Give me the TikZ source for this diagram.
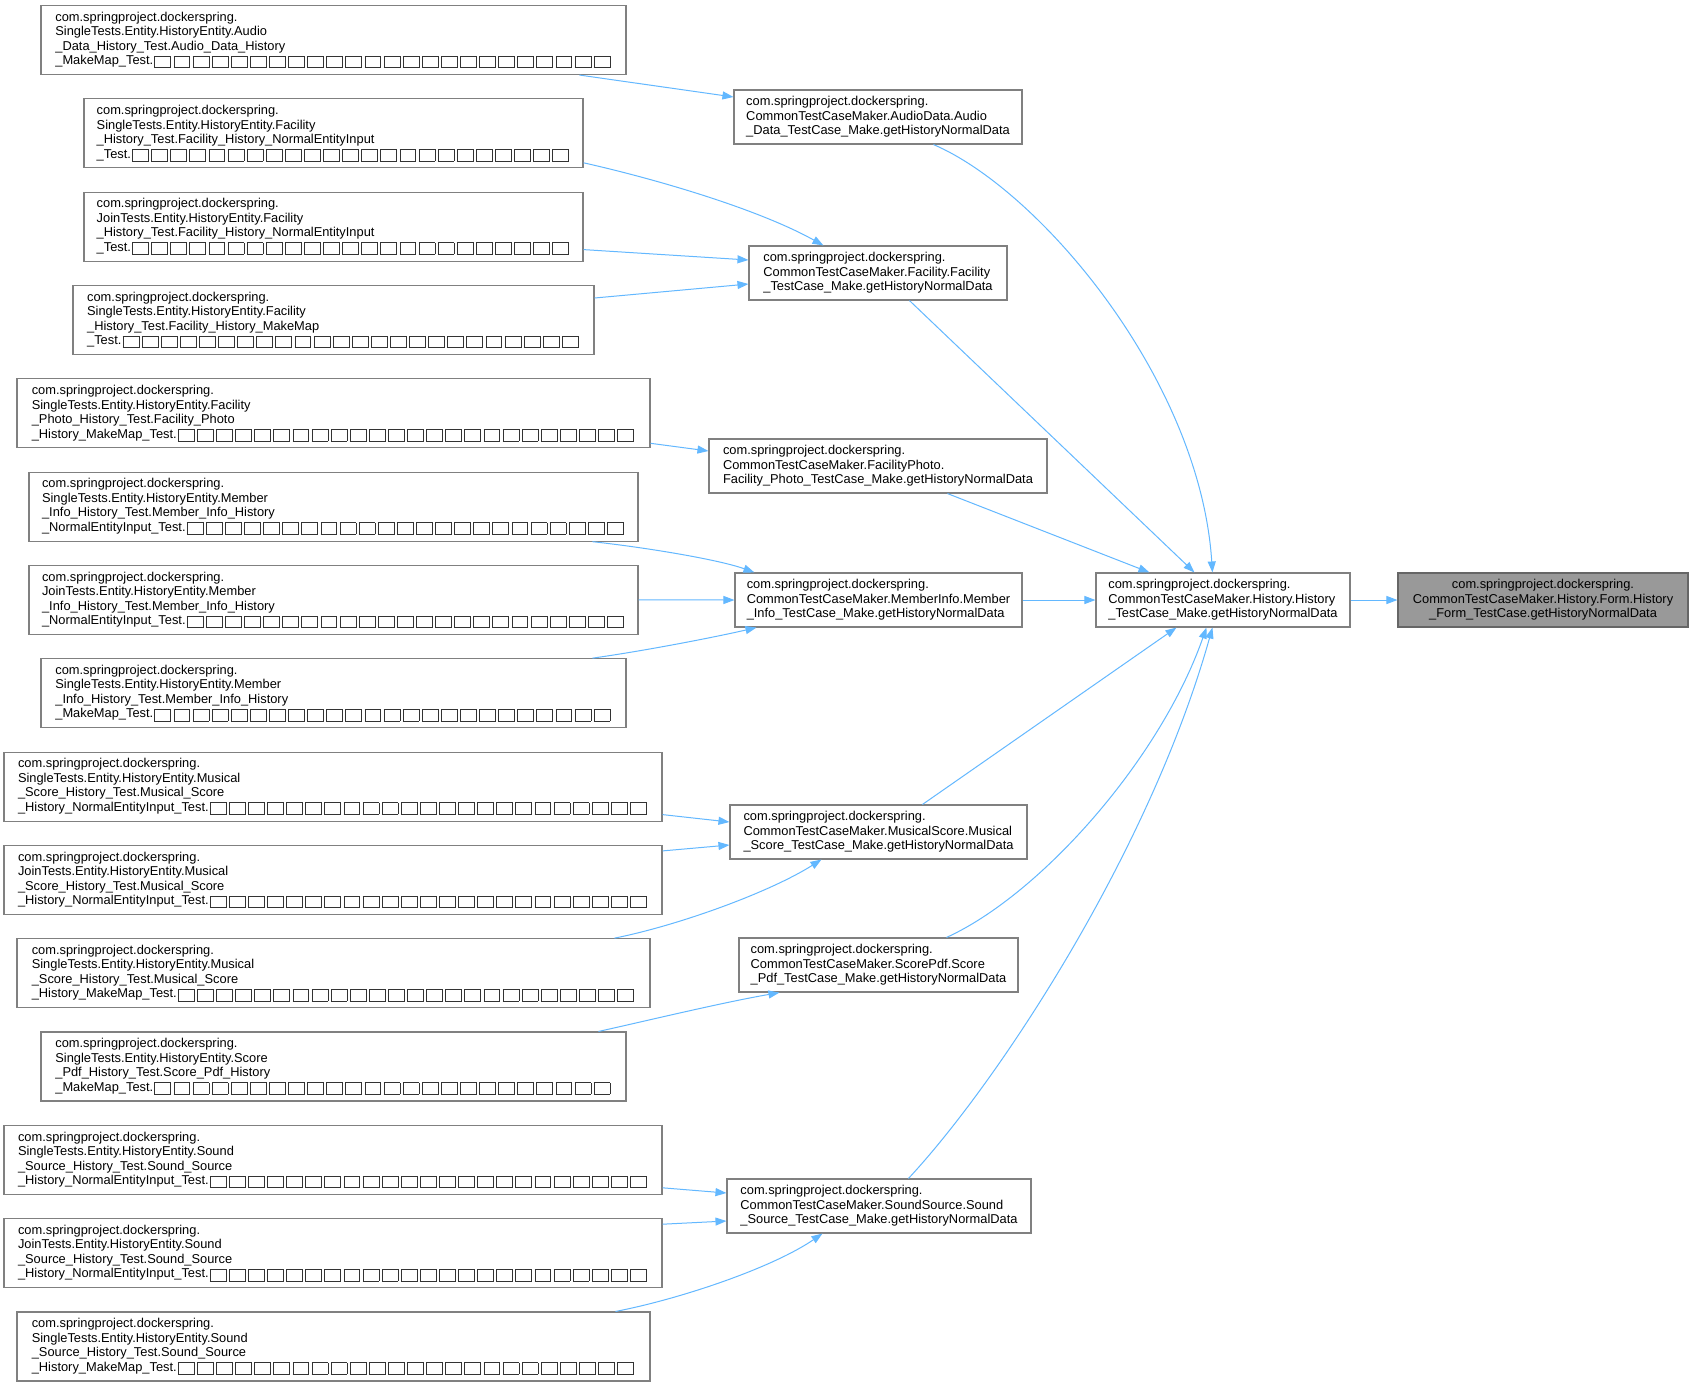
\documentclass[tikz,border=0pt]{standalone}
\usepackage{fontspec}
\setmainfont{Liberation Sans}
\usetikzlibrary{arrows.meta}
\definecolor{edgec}{HTML}{63B8FF}
\definecolor{nodeb}{HTML}{808080}
\definecolor{grayfill}{HTML}{999999}
\definecolor{grayb}{HTML}{666666}
\definecolor{tofuc}{HTML}{333333}
\newcount\tfcnt
\newcommand\tfbox{\kern1.2pt{\color{tofuc}\fboxsep=0pt\fboxrule=0.8pt\fbox{\rule[-2.6pt]{0pt}{10.8pt}\kern15.1pt}}\kern1.2pt}
\newcommand\tofus[1]{\tfcnt=#1\relax\loop\ifnum\tfcnt>0 \tfbox\advance\tfcnt by -1 \repeat}
\newcommand\pkg{com.springproject.dockerspring.}
\begin{document}
\begin{tikzpicture}[x=1pt,y=-1pt,
  every node/.style={font=\fontsize{12.85pt}{14.5pt}\selectfont},
  lbox/.style={draw=nodeb, line width=1.1pt, fill=white, align=left, inner xsep=11pt, inner ysep=4pt, minimum height=69pt},
  mbox/.style={lbox, minimum height=54pt},
  focusbox/.style={draw=grayb, line width=1.1pt, fill=grayfill, align=center, inner xsep=11pt, inner ysep=4pt, minimum height=54pt},
  calledge/.style={draw=edgec, line width=1pt, -{Triangle[length=11pt,width=8pt,fill=edgec]}}
]
\useasboundingbox (0,0) rectangle (1693,1387);
\fill[white] (0,0) rectangle (1693,1387);

% left column
\node[lbox, minimum width=585pt] (L1) at (333.5,40) {\pkg\\SingleTests.Entity.HistoryEntity.Audio\\\_Data\_History\_Test.Audio\_Data\_History\\\_MakeMap\_Test.\tofus{24}};
\node[lbox, minimum width=499pt] (L2) at (333.5,133.3) {\pkg\\SingleTests.Entity.HistoryEntity.Facility\\\_History\_Test.Facility\_History\_NormalEntityInput\\\_Test.\tofus{23}};
\node[lbox, minimum width=499pt] (L3) at (333.5,226.6) {\pkg\\JoinTests.Entity.HistoryEntity.Facility\\\_History\_Test.Facility\_History\_NormalEntityInput\\\_Test.\tofus{23}};
\node[lbox, minimum width=521pt] (L4) at (333.5,320) {\pkg\\SingleTests.Entity.HistoryEntity.Facility\\\_History\_Test.Facility\_History\_MakeMap\\\_Test.\tofus{24}};
\node[lbox, minimum width=633pt] (L5) at (333.5,413.3) {\pkg\\SingleTests.Entity.HistoryEntity.Facility\\\_Photo\_History\_Test.Facility\_Photo\\\_History\_MakeMap\_Test.\tofus{24}};
\node[lbox, minimum width=609pt] (L6) at (333.5,506.6) {\pkg\\SingleTests.Entity.HistoryEntity.Member\\\_Info\_History\_Test.Member\_Info\_History\\\_NormalEntityInput\_Test.\tofus{23}};
\node[lbox, minimum width=609pt] (L7) at (333.5,599.9) {\pkg\\JoinTests.Entity.HistoryEntity.Member\\\_Info\_History\_Test.Member\_Info\_History\\\_NormalEntityInput\_Test.\tofus{23}};
\node[lbox, minimum width=585pt] (L8) at (333.5,693.2) {\pkg\\SingleTests.Entity.HistoryEntity.Member\\\_Info\_History\_Test.Member\_Info\_History\\\_MakeMap\_Test.\tofus{24}};
\node[lbox, minimum width=658pt] (L9) at (333,786.6) {\pkg\\SingleTests.Entity.HistoryEntity.Musical\\\_Score\_History\_Test.Musical\_Score\\\_History\_NormalEntityInput\_Test.\tofus{23}};
\node[lbox, minimum width=658pt] (L10) at (333,879.9) {\pkg\\JoinTests.Entity.HistoryEntity.Musical\\\_Score\_History\_Test.Musical\_Score\\\_History\_NormalEntityInput\_Test.\tofus{23}};
\node[lbox, minimum width=633pt] (L11) at (333.5,973.2) {\pkg\\SingleTests.Entity.HistoryEntity.Musical\\\_Score\_History\_Test.Musical\_Score\\\_History\_MakeMap\_Test.\tofus{24}};
\node[lbox, minimum width=585pt] (L12) at (333.5,1066.5) {\pkg\\SingleTests.Entity.HistoryEntity.Score\\\_Pdf\_History\_Test.Score\_Pdf\_History\\\_MakeMap\_Test.\tofus{24}};
\node[lbox, minimum width=658pt] (L13) at (333,1159.8) {\pkg\\SingleTests.Entity.HistoryEntity.Sound\\\_Source\_History\_Test.Sound\_Source\\\_History\_NormalEntityInput\_Test.\tofus{23}};
\node[lbox, minimum width=658pt] (L14) at (333,1253.2) {\pkg\\JoinTests.Entity.HistoryEntity.Sound\\\_Source\_History\_Test.Sound\_Source\\\_History\_NormalEntityInput\_Test.\tofus{23}};
\node[lbox, minimum width=633pt] (L15) at (333.5,1346.5) {\pkg\\SingleTests.Entity.HistoryEntity.Sound\\\_Source\_History\_Test.Sound\_Source\\\_History\_MakeMap\_Test.\tofus{24}};

% middle column
\node[mbox, minimum width=288pt] (M1) at (878,117) {\pkg\\CommonTestCaseMaker.AudioData.Audio\\\_Data\_TestCase\_Make.getHistoryNormalData};
\node[mbox, minimum width=258pt] (M2) at (878,273) {\pkg\\CommonTestCaseMaker.Facility.Facility\\\_TestCase\_Make.getHistoryNormalData};
\node[mbox, minimum width=338pt] (M3) at (878,466) {\pkg\\CommonTestCaseMaker.FacilityPhoto.\\Facility\_Photo\_TestCase\_Make.getHistoryNormalData};
\node[mbox, minimum width=287pt] (M4) at (878.5,600) {\pkg\\CommonTestCaseMaker.MemberInfo.Member\\\_Info\_TestCase\_Make.getHistoryNormalData};
\node[mbox, minimum width=297pt] (M5) at (878.5,832) {\pkg\\CommonTestCaseMaker.MusicalScore.Musical\\\_Score\_TestCase\_Make.getHistoryNormalData};
\node[mbox, minimum width=279pt] (M6) at (878.5,965) {\pkg\\CommonTestCaseMaker.ScorePdf.Score\\\_Pdf\_TestCase\_Make.getHistoryNormalData};
\node[mbox, minimum width=304pt] (M7) at (879,1206) {\pkg\\CommonTestCaseMaker.SoundSource.Sound\\\_Source\_TestCase\_Make.getHistoryNormalData};

% right
\node[mbox, minimum width=254pt] (H) at (1223,600) {\pkg\\CommonTestCaseMaker.History.History\\\_TestCase\_Make.getHistoryNormalData};
\node[focusbox, minimum width=290pt] (F) at (1543,600) {\pkg\\CommonTestCaseMaker.History.Form.History\\\_Form\_TestCase.getHistoryNormalData};

% edges left -> middle
\draw[calledge] ([xshift=539pt]L1.south west) -- ([yshift=20pt]M1.west);
\draw[calledge] ([yshift=-29.5pt]L2.east) .. controls (660,180) and (760,210) .. ([xshift=75pt]M2.north west);
\draw[calledge] ([yshift=-23pt]L3.east) -- ([yshift=13pt]M2.west);
\draw[calledge] ([yshift=22pt]L4.east) -- ([yshift=-11pt]M2.west);
\draw[calledge] ([yshift=-30pt]L5.east) -- ([yshift=15pt]M3.west);
\draw[calledge] ([xshift=564pt]L6.south west) .. controls (650,548) and (720,560) .. ([xshift=20pt]M4.north west);
\draw[calledge] (L7.east) -- (M4.west);
\draw[calledge] ([xshift=552pt]L8.north west) .. controls (650,650) and (720,636) .. ([xshift=22pt]M4.south west);
\draw[calledge] ([yshift=-28pt]L9.east) -- ([yshift=10pt]M5.west);
\draw[calledge] ([yshift=29pt]L10.east) -- ([yshift=-13pt]M5.west);
\draw[calledge] ([xshift=598pt]L11.north west) .. controls (680,925) and (770,892) .. ([xshift=92pt]M5.south west);
\draw[calledge] ([xshift=558pt]L12.north west) .. controls (650,1020) and (720,1003) .. ([xshift=41pt]M6.south west);
\draw[calledge] ([yshift=-28pt]L13.east) -- ([yshift=13pt]M7.west);
\draw[calledge] ([yshift=29pt]L14.east) -- ([yshift=-15pt]M7.west);
\draw[calledge] ([xshift=599pt]L15.north west) .. controls (680,1299) and (772,1268) .. ([xshift=96pt]M7.south west);

% edges middle -> H
\draw[calledge] ([xshift=200pt]M1.south west) .. controls (1040,190) and (1200,380) .. ([xshift=117pt]H.north west);
\draw[calledge] ([xshift=161pt]M2.south west) -- ([xshift=99pt]H.north west);
\draw[calledge] ([xshift=239pt]M3.south west) -- ([xshift=54pt]H.north west);
\draw[calledge] (M4.east) -- (H.west);
\draw[calledge] ([xshift=193pt]M5.north west) -- ([xshift=81pt]H.south west);
\draw[calledge] ([xshift=208pt]M6.north west) .. controls (1040,895) and (1160,760) .. ([xshift=111pt]H.south west);
\draw[calledge] ([xshift=182pt]M7.north west) .. controls (1000,1080) and (1150,850) .. ([xshift=117pt]H.south west);

% H -> F
\draw[calledge] (H.east) -- (F.west);
\end{tikzpicture}
\end{document}
